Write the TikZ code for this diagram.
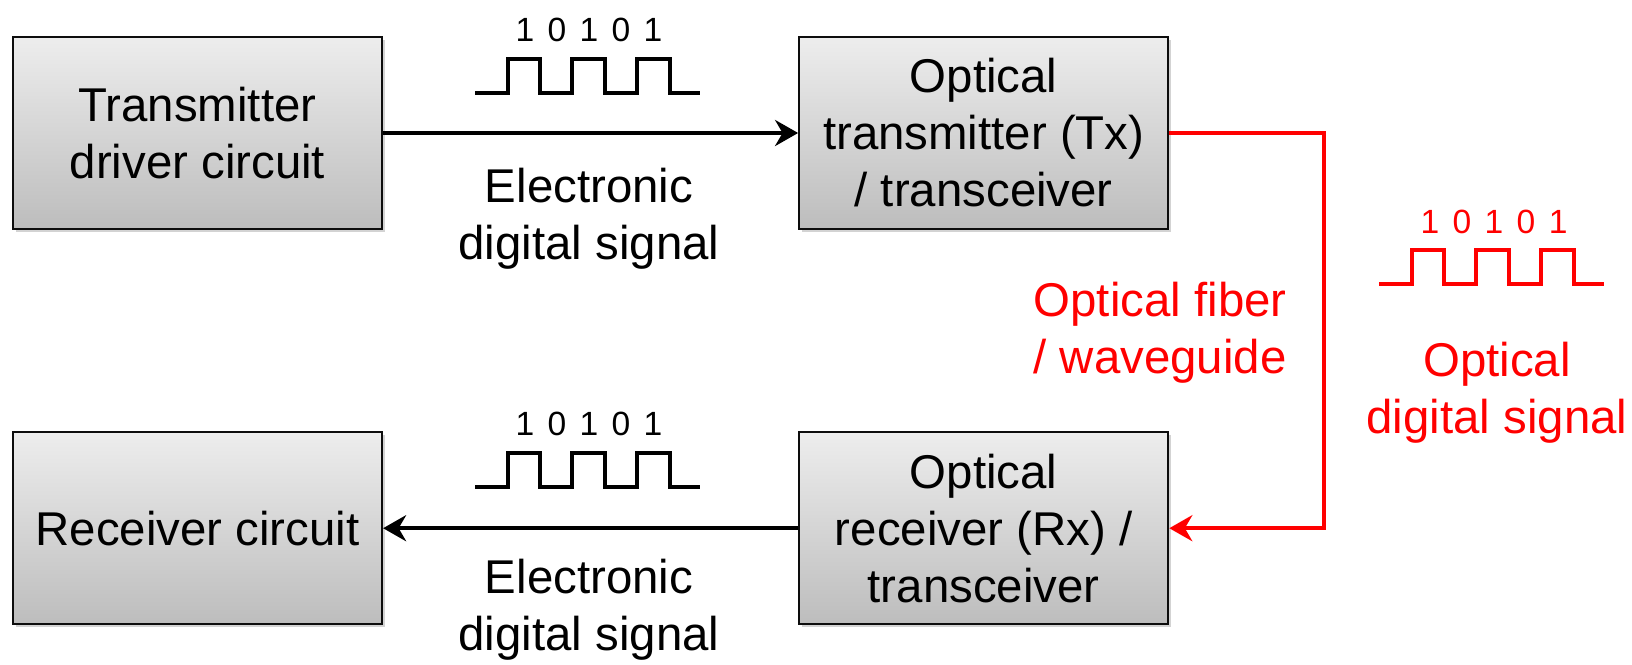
\documentclass[tikz,border=0pt]{standalone}
\usepackage{fontspec}
\setmainfont{Liberation Sans}
\newfontfamily\bitsfont[LetterSpace=12]{Liberation Sans}
\usepackage{tikz}
\usetikzlibrary{positioning, arrows.meta, shadows}
\definecolor{fibred}{rgb}{1.0, 0.0, 0.0}
\definecolor{boxtop}{gray}{0.93}
\definecolor{boxbottom}{gray}{0.74}
\definecolor{linegray}{gray}{0.05}

\begin{document}
\begin{tikzpicture}[
    x=0.5pt, y=-0.5pt,
    every node/.style={font=\fontsize{23.7}{28.5}\selectfont, align=center, inner sep=0pt},
    blockbox/.style={draw=linegray, line width=1.1pt, top color=boxtop, bottom color=boxbottom,
                     minimum width=184.5pt, minimum height=96pt,
                     drop shadow={shadow xshift=1.5pt, shadow yshift=-1.5pt, opacity=0.35}},
    wire/.style    ={-{Stealth[length=11.5pt, width=13pt]}, line width=2pt, draw=black},
    fibre/.style   ={-{Stealth[length=11.5pt, width=13pt]}, line width=2pt, draw=fibred},
    bits/.style    ={font=\bitsfont\fontsize{16.8}{20}\selectfont},
    pulses/.style  ={line width=1.9pt, line join=miter},
    pics/wave/.style={code={
        \draw[pulses] (0,0) -- (33,0) -- (33,-34) -- (65,-34) -- (65,0) -- (97,0) -- (97,-34)
            -- (130,-34) -- (130,0) -- (162,0) -- (162,-34) -- (195,-34) -- (195,0) -- (225,0);
    }}
]
\useasboundingbox (0,0) rectangle (1632,664);
% Blocks
\node[blockbox] (driver) at (197.5,133) {Transmitter\\driver circuit};
\node[blockbox, right=207.5pt of driver] (tx)     {Optical\\transmitter (Tx)\\/ transceiver};
\node[blockbox, below=100.5pt of driver] (rxcirc) {Receiver circuit};
\node[blockbox, below=100.5pt of tx]     (rx)     {Optical\\receiver (Rx) /\\transceiver};
% Electronic links
\draw[wire] (driver.east) -- (tx.west);
\draw[wire] (rx.west) -- (rxcirc.east);
\node (txlabel) at (589,219) {Electronic\\digital signal};
\node (rxlabel) at (589,610) {Electronic\\digital signal};
% Optical link
\draw[fibre] (tx.east) -- ++(155,0) |- (rx.east);
\node[text=fibred, align=right, anchor=east] (fiblabel) at (1287,333) {Optical fiber\\/ waveguide};
\node[text=fibred] (optlabel) at (1497,393) {Optical\\digital signal};
% Bit patterns
\pic at (475,93) {wave};
\node[bits] (txbits) at (589,30) {1 0 1 0 1};
\pic at (475,487) {wave};
\node[bits] (rxbits) at (589,424) {1 0 1 0 1};
\pic[fibred] at (1379,284) {wave};
\node[bits, text=fibred] (optbits) at (1494,222) {1 0 1 0 1};
\end{tikzpicture}
\end{document}
